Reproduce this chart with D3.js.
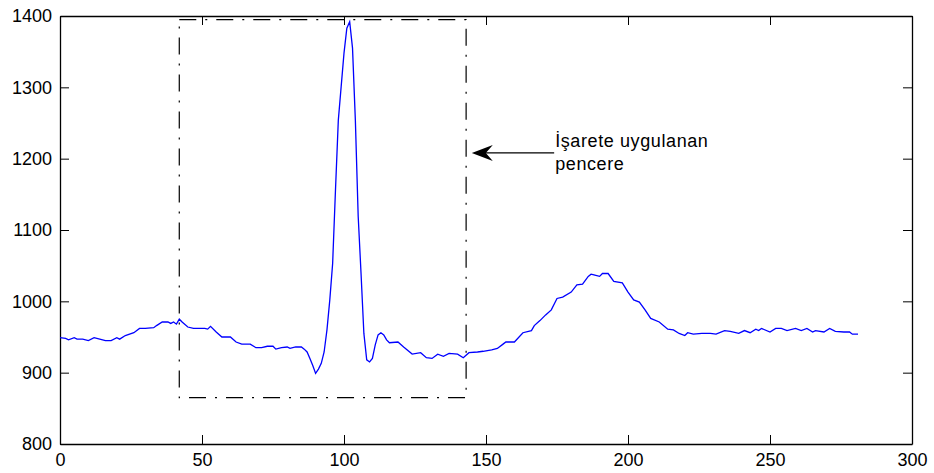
<!DOCTYPE html>
<html>
<head>
<meta charset="utf-8">
<script src="https://cdn.jsdelivr.net/npm/d3@7"></script>
<style>
  html, body { margin: 0; padding: 0; background: #fff; }
  svg { display: block; font-family: "Liberation Sans", Arial, sans-serif; }
</style>
</head>
<body>
<svg id="chart" width="934" height="473"></svg>
<script>
// signal samples (index, amplitude)
const sampleIdx = [0, 2, 3, 5, 6, 8, 10, 12, 14, 16, 18, 20, 21, 23, 26, 28, 30, 33, 34, 36,
  38, 39, 40, 41, 42, 43, 45, 47, 51, 52, 53, 55, 57, 60, 62, 64, 67, 69, 71, 73,
  75, 76, 78, 80, 81, 83, 85, 86, 87, 88, 89, 90, 91, 92, 93, 94, 95, 96, 97, 98,
  99, 100, 101, 102, 103, 104, 105, 106, 107, 108, 109, 110, 111, 112, 113, 114, 115, 116, 119, 121,
  124, 127, 129, 131, 133, 135, 137, 140, 142, 144, 147, 149, 152, 154, 156, 157, 160, 163, 166, 167,
  169, 171, 173, 175, 177, 180, 182, 184, 186, 187, 188, 190, 191, 193, 195, 198, 200, 202, 204, 206,
  208, 211, 214, 216, 218, 220, 221, 223, 226, 229, 231, 234, 236, 239, 241, 243, 245, 246, 247, 250,
  252, 254, 256, 259, 261, 263, 265, 266, 269, 271, 273, 276, 278, 279, 281];
const amplitude = [949, 948, 946, 949, 947, 947, 945, 949, 947, 945, 945, 949, 947, 952, 956, 962, 962, 963, 966, 971,
  971, 969, 971, 968, 975, 971, 964, 962, 962, 961, 965, 957, 950, 950, 943, 940, 940, 935, 935, 937,
  937, 933, 935, 936, 934, 936, 936, 933, 929, 920, 910, 899, 905, 913, 929, 960, 1002, 1053, 1156, 1254,
  1301, 1348, 1383, 1392, 1355, 1254, 1119, 1039, 955, 918, 915, 920, 939, 953, 956, 953, 946, 942, 943, 936,
  926, 928, 921, 920, 926, 923, 927, 926, 921, 928, 929, 930, 932, 934, 940, 943, 943, 956, 959, 966,
  973, 981, 988, 1004, 1006, 1013, 1023, 1024, 1035, 1038, 1037, 1035, 1039, 1039, 1028, 1026, 1013, 1002, 999, 988,
  976, 971, 961, 960, 955, 952, 956, 954, 955, 955, 954, 959, 958, 955, 959, 956, 961, 959, 962, 957,
  962, 962, 959, 962, 959, 962, 957, 959, 957, 962, 958, 957, 957, 954, 954];

const xTicks = [0, 50, 100, 150, 200, 250, 300];
const yTicks = [800, 900, 1000, 1100, 1200, 1300, 1400];

// window box and annotation (data units)
const windowX = [42, 143];
const windowY = [865, 1395];
const arrowFrom = [174, 1208];
const arrowTo = [145, 1208];
const noteLines = ["İşarete uygulanan", "pencere"];

const svg = d3.select("#chart");
const margin = { top: 16, right: 22, bottom: 29, left: 60 };
const W = 934, H = 473;

const x = d3.scaleLinear().domain([0, 300]).range([margin.left, W - margin.right]);
const y = d3.scaleLinear().domain([800, 1400]).range([H - margin.bottom, margin.top]);

const tick = 9;
const fmt = d3.format("d");

// axes (MATLAB style: ticks inward on all four sides)
const axB = svg.append("g")
  .attr("transform", `translate(0,${y(800)})`)
  .call(d3.axisBottom(x).tickValues(xTicks).tickFormat(fmt).tickSizeInner(-tick).tickSizeOuter(0).tickPadding(9));
const axT = svg.append("g")
  .attr("transform", `translate(0,${y(1400)})`)
  .call(d3.axisTop(x).tickValues(xTicks).tickSizeInner(-tick).tickSizeOuter(0).tickFormat(""));
const axL = svg.append("g")
  .attr("transform", `translate(${x(0)},0)`)
  .call(d3.axisLeft(y).tickValues(yTicks).tickFormat(fmt).tickSizeInner(-tick).tickSizeOuter(0).tickPadding(8));
const axR = svg.append("g")
  .attr("transform", `translate(${x(300)},0)`)
  .call(d3.axisRight(y).tickValues(yTicks).tickSizeInner(-tick).tickSizeOuter(0).tickFormat(""));

[axB, axT, axL, axR].forEach(a => {
  a.selectAll("path.domain").attr("stroke", "#000").attr("stroke-width", 1.3);
  a.selectAll(".tick line").attr("stroke", "#000");
  a.selectAll("text").attr("font-size", "18px").attr("fill", "#000")
    .attr("font-family", "'Liberation Sans', Arial, sans-serif");
});

// signal
const line = d3.line()
  .x((d, i) => x(sampleIdx[i]))
  .y(d => y(d));

svg.append("path")
  .datum(amplitude)
  .attr("d", line)
  .attr("fill", "none")
  .attr("stroke", "#0000ff")
  .attr("stroke-width", 1.3);

// window box
svg.append("rect")
  .attr("x", x(windowX[0]))
  .attr("y", y(windowY[1]))
  .attr("width", x(windowX[1]) - x(windowX[0]))
  .attr("height", y(windowY[0]) - y(windowY[1]))
  .attr("fill", "none")
  .attr("stroke", "#000")
  .attr("stroke-width", 1.2)
  .attr("stroke-dasharray", "17,9,2,9");

// arrow
const tx = x(arrowTo[0]), ty = y(arrowTo[1]);
svg.append("line")
  .attr("x1", x(arrowFrom[0])).attr("y1", y(arrowFrom[1]))
  .attr("x2", tx + 12).attr("y2", ty)
  .attr("stroke", "#000")
  .attr("stroke-width", 1.2);

svg.append("path")
  .attr("d", `M${tx},${ty} L${tx + 21},${ty - 8} L${tx + 14},${ty} L${tx + 21},${ty + 8} Z`)
  .attr("fill", "#000");

svg.append("text")
  .attr("x", x(arrowFrom[0]) + 1)
  .attr("y", ty - 6)
  .attr("font-size", "18px")
  .attr("letter-spacing", "0.6px")
  .attr("fill", "#000")
  .selectAll("tspan")
  .data(noteLines)
  .enter()
  .append("tspan")
    .attr("x", x(arrowFrom[0]) + 1)
    .attr("dy", (d, i) => i === 0 ? 0 : 23)
    .text(d => d);
</script>
</body>
</html>
